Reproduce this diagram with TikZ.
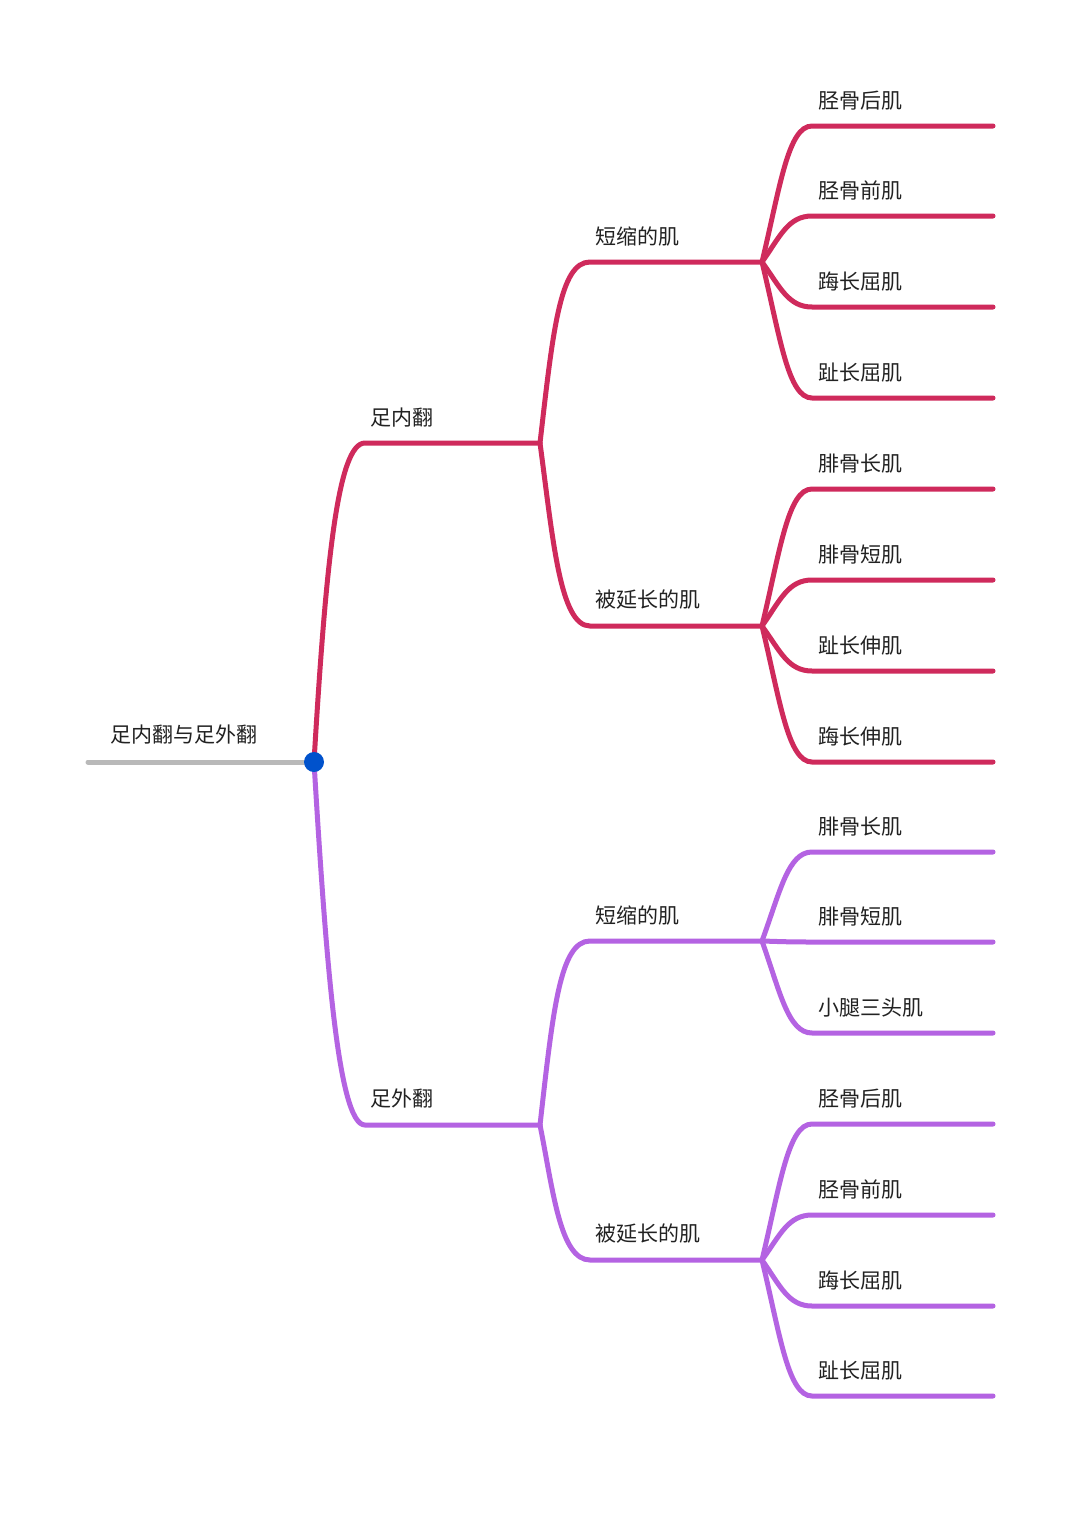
\documentclass[tikz,border=0pt]{standalone}
\usepackage{fontspec}
\newfontfamily\cjk{Noto Sans CJK SC}
\definecolor{redb}{HTML}{CF2A5C}
\definecolor{purb}{HTML}{B463E2}
\definecolor{txt}{HTML}{222222}
\tikzset{lbl/.style={anchor=west,inner sep=0pt,font=\cjk\fontsize{21}{21}\selectfont,text=txt},
 rl/.style={draw=redb,line width=5pt,line cap=round},
 pl/.style={draw=purb,line width=5pt,line cap=round}}
\begin{document}
\begin{tikzpicture}[x=1pt,y=-1pt]
\useasboundingbox[fill=white] (0,0) rectangle (1080,1523);
\coordinate (R) at (314,762);
\coordinate (G) at (88,762);
\draw[line width=5pt,draw=gray!55,line cap=round] (G) -- (R);
\node[lbl] (rt) at (110,735) {足内翻与足外翻};
% top branch
\coordinate (A) at (365,443); \coordinate (A2) at (540,443);
\draw[rl] (R) .. controls (326,560) and (338,443) .. (A) -- (A2);
\node[lbl] (at) at (370,418) {足内翻};
\coordinate (B) at (590,262); \coordinate (B2) at (762,262);
\coordinate (C) at (590,626); \coordinate (C2) at (762,626);
\draw[rl] (A2) .. controls (553,330) and (560,262) .. (B) -- (B2);
\draw[rl] (A2) .. controls (553,540) and (560,626) .. (C) -- (C2);
\node[lbl] (bt) at (595,237) {短缩的肌};
\node[lbl] (ct) at (595,600) {被延长的肌};
\foreach \y/\t [count=\i] in {126/胫骨后肌,216/胫骨前肌,307/踇长屈肌,398/趾长屈肌}{
 \coordinate (b\i) at (812,\y); \coordinate (bb\i) at (993,\y);
 \draw[rl] (B2) .. controls (780,{262+0.55*(\y-262)}) and (788,\y) .. (b\i) -- (bb\i);
 \node[lbl] (bl\i) at (818,{\y-25}) {\t};}
\foreach \y/\t [count=\i] in {489/腓骨长肌,580/腓骨短肌,671/趾长伸肌,762/踇长伸肌}{
 \coordinate (c\i) at (812,\y); \coordinate (cc\i) at (993,\y);
 \draw[rl] (C2) .. controls (780,{626+0.55*(\y-626)}) and (788,\y) .. (c\i) -- (cc\i);
 \node[lbl] (cl\i) at (818,{\y-25}) {\t};}
% bottom branch
\coordinate (D) at (365,1125); \coordinate (D2) at (540,1125);
\draw[pl] (R) .. controls (326,960) and (338,1125) .. (D) -- (D2);
\node[lbl] (dt) at (370,1098) {足外翻};
\coordinate (E) at (590,941); \coordinate (E2) at (762,941);
\coordinate (F) at (590,1260); \coordinate (F2) at (762,1260);
\draw[pl] (D2) .. controls (553,1010) and (560,941) .. (E) -- (E2);
\draw[pl] (D2) .. controls (553,1190) and (560,1260) .. (F) -- (F2);
\node[lbl] (et) at (595,916) {短缩的肌};
\node[lbl] (ft) at (595,1234) {被延长的肌};
\foreach \y/\t [count=\i] in {852/腓骨长肌,942/腓骨短肌,1033/小腿三头肌}{
 \coordinate (e\i) at (812,\y); \coordinate (ee\i) at (993,\y);
 \draw[pl] (E2) .. controls (780,{941+0.55*(\y-941)}) and (788,\y) .. (e\i) -- (ee\i);
 \node[lbl] (el\i) at (818,{\y-25}) {\t};}
\foreach \y/\t [count=\i] in {1124/胫骨后肌,1215/胫骨前肌,1306/踇长屈肌,1396/趾长屈肌}{
 \coordinate (f\i) at (812,\y); \coordinate (ff\i) at (993,\y);
 \draw[pl] (F2) .. controls (780,{1260+0.55*(\y-1260)}) and (788,\y) .. (f\i) -- (ff\i);
 \node[lbl] (fl\i) at (818,{\y-25}) {\t};}
\fill[blue!60!cyan!80!black] (R) circle (10);
\end{tikzpicture}
\end{document}
